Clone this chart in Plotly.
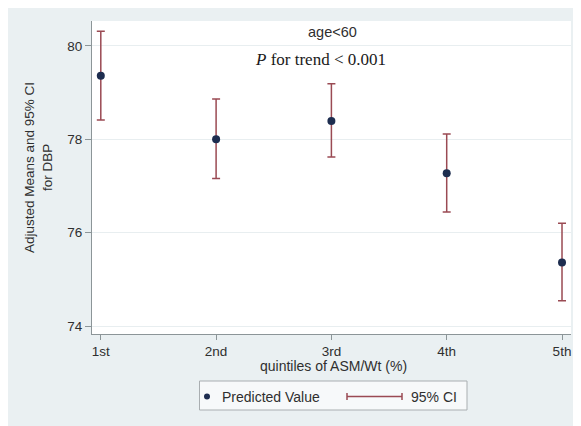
import plotly.graph_objects as go

# ---- data ----
categories = ["1st", "2nd", "3rd", "4th", "5th"]
means = [79.36, 78.00, 78.39, 77.27, 75.36]
upper = [80.31, 78.86, 79.19, 78.11, 76.20]
lower = [78.41, 77.16, 77.62, 76.44, 74.54]
y_ticks = [74, 76, 78, 80]

# ---- layout geometry (screen pixels; page body has an 8px margin,
#      and only x < 573 is visible) ----
OFF = 8
W, H = 573 - OFF, 426 - OFF
L, R, T, B = 92, 571, 21, 334
pw, ph = R - L, B - T


def px(x):
    return (x - L) / pw


def py(y):
    return (B - y) / ph


err_plus = [u - m for u, m in zip(upper, means)]
err_minus = [m - l for m, l in zip(means, lower)]

MARK = "#1d2d4f"
CI = "#9a4a53"
TXT = "#2f2f2f"
PANEL = "#eaf0f2"
AX = "#8c9598"
FONT = "Liberation Sans, Arial, sans-serif"

fig = go.Figure()
fig.add_trace(go.Scatter(
    x=categories, y=means, mode="markers",
    marker=dict(color=MARK, size=8),
    error_y=dict(type="data", symmetric=False, array=err_plus,
                 arrayminus=err_minus, color=CI, thickness=1.5, width=4),
    showlegend=False, hoverinfo="x+y",
))

shapes = [
    # legend box
    dict(type="rect", xref="paper", yref="paper",
         x0=px(199.5), x1=px(467), y0=py(410), y1=py(381),
         fillcolor="#f7f9fa", line=dict(color="#a9aeb1", width=1)),
    # legend marker
    dict(type="circle", xref="paper", yref="paper",
         x0=px(204), x1=px(210), y0=py(399.5), y1=py(393.5),
         fillcolor=MARK, line=dict(width=0)),
    # legend CI symbol
    dict(type="line", xref="paper", yref="paper",
         x0=px(347), x1=px(402), y0=py(396.5), y1=py(396.5),
         line=dict(color=CI, width=1.5)),
    dict(type="line", xref="paper", yref="paper",
         x0=px(347), x1=px(347), y0=py(393), y1=py(400),
         line=dict(color=CI, width=1.5)),
    dict(type="line", xref="paper", yref="paper",
         x0=px(402), x1=px(402), y0=py(393), y1=py(400),
         line=dict(color=CI, width=1.5)),
]

annotations = [
    dict(text="age&lt;60", x=px(332), y=py(32), xref="paper", yref="paper",
         showarrow=False, font=dict(family=FONT, size=14.5, color=TXT),
         xanchor="center", yanchor="middle"),
    dict(text="<i>P</i> for trend &lt; 0.001", x=px(320), y=py(60),
         xref="paper", yref="paper", showarrow=False,
         font=dict(family="Liberation Serif, Times New Roman, serif",
                   size=17, color="#1a1a1a"),
         xanchor="center", yanchor="middle"),
    dict(text="Adjusted Means and 95% CI<br>for DBP", x=px(38), y=py(168),
         xref="paper", yref="paper", showarrow=False, textangle=-90,
         font=dict(family=FONT, size=13.5, color=TXT),
         xanchor="center", yanchor="middle"),
    dict(text="quintiles of ASM/Wt (%)", x=px(333), y=py(366),
         xref="paper", yref="paper", showarrow=False,
         font=dict(family=FONT, size=14, color=TXT),
         xanchor="center", yanchor="middle"),
    dict(text="Predicted Value", x=px(220), y=py(396.5),
         xref="paper", yref="paper", showarrow=False,
         font=dict(family=FONT, size=14, color=TXT),
         xanchor="left", yanchor="middle"),
    dict(text="95% CI", x=px(409), y=py(396.5),
         xref="paper", yref="paper", showarrow=False,
         font=dict(family=FONT, size=14, color=TXT),
         xanchor="left", yanchor="middle"),
]

fig.update_layout(
    width=W, height=H,
    margin=dict(l=L - OFF, r=OFF + W - R, t=T - OFF, b=OFF + H - B, pad=0),
    paper_bgcolor=PANEL, plot_bgcolor="white",
    font=dict(family=FONT, size=14, color=TXT),
    shapes=shapes, annotations=annotations,
    xaxis=dict(type="category", categoryorder="array",
               categoryarray=categories,
               range=[-0.0763, 4.078], showgrid=False, zeroline=False,
               showline=True, linecolor=AX, linewidth=1,
               ticks="outside", ticklen=5, tickcolor=AX,
               tickfont=dict(family=FONT, size=13.5, color=TXT)),
    yaxis=dict(range=[73.829, 80.531], tickvals=y_ticks,
               showgrid=True, gridcolor="#e8eef0", gridwidth=1,
               zeroline=False, showline=True, linecolor=AX, linewidth=1,
               ticks="outside", ticklen=6, tickcolor=AX,
               tickfont=dict(family=FONT, size=13.5, color=TXT)),
)

fig.write_html("out.html")
